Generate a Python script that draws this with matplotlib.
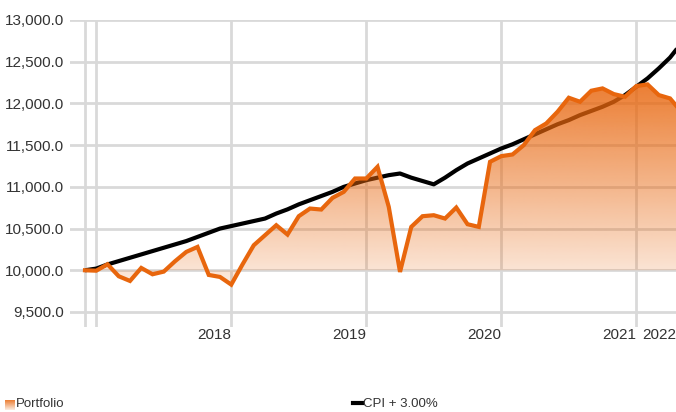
import matplotlib.pyplot as plt
import numpy as np
from matplotlib.colors import to_rgb

# monthly points, month 0 = start value
portfolio = [10000, 9995, 10072, 9928, 9872, 10028, 9952, 9984, 10108, 10220,
             10280, 9944, 9920, 9828, 10070, 10300, 10420, 10540, 10428, 10648,
             10740, 10728, 10868, 10940, 11100, 11100, 11240, 10760, 9980, 10520,
             10648, 10660, 10620, 10752, 10552, 10520, 11300, 11368, 11388, 11500,
             11680, 11760, 11900, 12068, 12020, 12152, 12180, 12112, 12080, 12208,
             12228, 12100, 12060, 11900]
cpi = [10000, 10020, 10070, 10110, 10150, 10190, 10230, 10270, 10310, 10350,
       10400, 10450, 10500, 10530, 10560, 10590, 10620, 10680, 10730, 10790,
       10840, 10890, 10940, 11000, 11040, 11080, 11110, 11140, 11160, 11110,
       11070, 11030, 11110, 11200, 11280, 11340, 11400, 11460, 11510, 11570,
       11630, 11690, 11750, 11800, 11860, 11910, 11960, 12020, 12100, 12200,
       12300, 12420, 12550, 12720]
year_ticks = [13, 25, 37, 49]
year_labels = ['2018', '2019', '2020', '2021']
y_ticks = [9500, 10000, 10500, 11000, 11500, 12000, 12500, 13000]

months = np.arange(len(portfolio))
orange = '#e8660d'
font = 'Liberation Sans'
txt = '#333333'

fig = plt.figure(figsize=(6.76, 4.12), dpi=100)
ax = fig.add_axes([70/676, 1-327/412, 606/676, (327-20)/412])

xlim = (-1.333, 52.53)
ylim = (9320, 13000)

ax.set_yticks(y_ticks)
ax.set_yticklabels(['{:,.1f}'.format(v) for v in y_ticks], fontfamily=font,
                   fontsize=11, color=txt)
ax.set_xticks(year_ticks)
ax.set_xticklabels(year_labels, fontfamily=font, fontsize=11, color=txt, ha='right')
ax.set_xticks([0, 1], minor=True)
ax.tick_params(axis='both', which='both', length=0)
ax.tick_params(axis='y', pad=4)
ax.tick_params(axis='x', pad=0.5)
ax.grid(True, which='both', color='#d9d9d9', linewidth=2)
ax.set_axisbelow(True)
for s in ax.spines.values():
    s.set_visible(False)

ax.plot(months, cpi, color='black', linewidth=3, zorder=2, solid_capstyle='butt')

# gradient fill between portfolio and 10,000
poly = ax.fill_between(months, portfolio, 10000, facecolor='none', edgecolor='none', zorder=3)
r, g, b = to_rgb(orange)
alpha = np.linspace(0.12, 0.85, 256)
grad = np.zeros((256, 1, 4))
grad[:, 0, 0] = r
grad[:, 0, 1] = g
grad[:, 0, 2] = b
grad[:, 0, 3] = alpha
img = ax.imshow(grad, extent=[0, 53, 9800, 12250], origin='lower', aspect='auto',
                zorder=3, interpolation='bilinear')
img.set_clip_path(poly.get_paths()[0], transform=ax.transData)

ax.plot(months, portfolio, color=orange, linewidth=3, zorder=4, solid_joinstyle='miter')

ax.set_xlim(*xlim)
ax.set_ylim(*ylim)

ax.text(1.0, -0.003, '2022', transform=ax.transAxes, ha='right', va='top',
        fontfamily=font, fontsize=11, color=txt)

# legend
lax = fig.add_axes([5/676, 1-410/412, 10/676, 10/412])
lax.imshow(grad[::-1], aspect='auto', extent=[0, 1, 0, 1])
lax.axis('off')
fig.text(16/676, 1-404/412, 'Portfolio', fontfamily=font, fontsize=9.5,
         color=txt, va='center')
fig.add_artist(plt.Line2D([353/676, 362/676], [1-403/412, 1-403/412],
                          color='black', linewidth=3, transform=fig.transFigure))
fig.text(363/676, 1-404/412, 'CPI + 3.00%', fontfamily=font, fontsize=9.5,
         color=txt, va='center')

fig.savefig('out.png', dpi=100)
